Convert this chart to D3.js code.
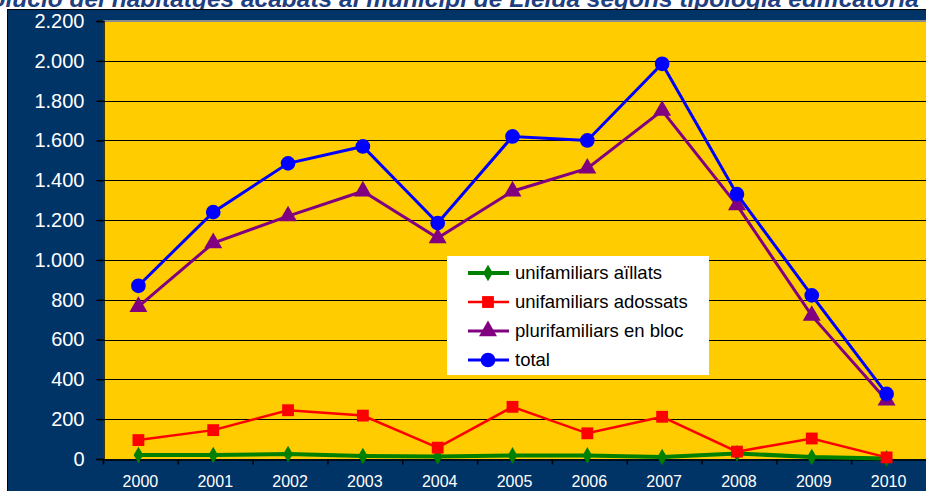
<!DOCTYPE html>
<meta charset="utf-8">
<style>
  body { margin: 0; background: #fff; }
  text { font-family: Arial, "Liberation Sans", sans-serif; }
  .title { font: italic bold 24.5px Arial, "Liberation Sans", sans-serif; fill: #1f3f7f; }
  .ylab, .xlab { fill: #fff; }
  .grid line { stroke: #000; stroke-width: 1px; }
  .legend text { font-size: 18.5px; fill: #000; }
</style>
<svg width="926" height="491"></svg>
<script src="https://d3js.org/d3.v7.min.js"></script>
<script>

  var years = ["2000", "2001", "2002", "2003", "2004", "2005", "2006", "2007", "2008", "2009", "2010"];
  var aillats = [20, 20, 25, 15, 13, 18, 18, 10, 28, 10, 3];
  var adossats = [95, 145, 245, 218, 57, 262, 129, 212, 37, 103, 8];
  var plurifamiliars = [765, 1085, 1220, 1345, 1110, 1345, 1460, 1750, 1275, 720, 295];
  var total = [870, 1240, 1485, 1570, 1185, 1620, 1600, 1985, 1330, 822, 327];
  var yTicks = [0, 200, 400, 600, 800, 1000, 1200, 1400, 1600, 1800, 2000, 2200];

  var series = [
    { name: "unifamiliars  aïllats", values: aillats, color: "#008000", width: 4, shape: "diamond" },
    { name: "unifamiliars adossats", values: adossats, color: "#ff0000", width: 2.5, shape: "square" },
    { name: "plurifamiliars en bloc", values: plurifamiliars, color: "#800080", width: 3, shape: "triangle" },
    { name: "total", values: total, color: "#0000ff", width: 3, shape: "circle" }
  ];

  var svg = d3.select("svg");
  var margin = { left: 103, top: 21, right: 0, bottom: 32 };
  var W = 926, H = 491;

  // title, cut by the top of the page as in the original
  svg.append("text").attr("class", "title")
    .attr("x", 919).attr("y", 7).attr("text-anchor", "end")
    .text("Evolució del habitatges acabats al municipi de Lleida segons tipologia edificatòria");

  // navy frame
  svg.append("rect").attr("x", 7.5).attr("y", 9.5).attr("width", W).attr("height", H)
    .attr("fill", "#003366").attr("stroke", "#000").attr("stroke-width", 1);

  var x = d3.scaleBand().domain(years).range([margin.left, W - margin.right]);
  var y = d3.scaleLinear().domain([0, 2200]).range([H - margin.bottom, margin.top]);

  // plot area
  svg.append("rect")
    .attr("x", margin.left).attr("y", margin.top)
    .attr("width", W - margin.left).attr("height", y(0) - margin.top)
    .attr("fill", "#ffcc00");
  svg.append("line")
    .attr("x1", margin.left).attr("x2", W).attr("y1", margin.top).attr("y2", margin.top)
    .attr("stroke", "#8c8c8c").attr("stroke-width", 2);

  // grid
  svg.append("g").attr("class", "grid")
    .selectAll("line").data(yTicks.slice(1, -1)).enter().append("line")
    .attr("x1", margin.left).attr("x2", W)
    .attr("y1", function (d) { return Math.round(y(d)) + 0.5; })
    .attr("y2", function (d) { return Math.round(y(d)) + 0.5; });

  // y axis
  var yAxis = svg.append("g")
    .attr("transform", "translate(" + (margin.left + 0.5) + ",0)")
    .call(d3.axisLeft(y).tickValues(yTicks).tickSize(7).tickPadding(12)
      .tickFormat(function (d) { return d3.format(",")(d).replace(/,/g, "."); }));
  yAxis.select(".domain").attr("stroke", "#000").attr("stroke-width", 1.5);
  yAxis.selectAll(".tick line").attr("stroke", "#000").attr("stroke-width", 1.5);
  yAxis.selectAll("text").attr("class", "ylab").attr("fill", "#fff").style("font-size", "20px");

  // x axis
  var xAxis = svg.append("g")
    .attr("transform", "translate(0," + (y(0) + 0.5) + ")")
    .call(d3.axisBottom(x).tickSize(0).tickPadding(16));
  xAxis.select(".domain").attr("stroke", "#000").attr("stroke-width", 1.5);
  xAxis.selectAll("text").attr("class", "xlab").attr("fill", "#fff").style("font-size", "16px");
  xAxis.selectAll(".sep").data(years).enter().append("line")
    .attr("x1", function (d) { return x(d) + 0.5; }).attr("x2", function (d) { return x(d) + 0.5; })
    .attr("y1", 0).attr("y2", 5).attr("stroke", "#000").attr("stroke-width", 1.5);

  function cx(i) { return x(years[i]) + x.bandwidth() / 2 - 2; }

  var symbols = {
    diamond: d3.symbol().type(d3.symbolDiamond).size(80),
    square: d3.symbol().type(d3.symbolSquare).size(140),
    triangle: d3.symbol().type(d3.symbolTriangle).size(140),
    circle: d3.symbol().type(d3.symbolCircle).size(170)
  };

  var line = d3.line().x(function (d, i) { return cx(i); }).y(function (d) { return y(d); });

  series.forEach(function (s) {
    var g = svg.append("g");
    g.append("path").attr("d", line(s.values))
      .attr("fill", "none").attr("stroke", s.color).attr("stroke-width", s.width);
    g.selectAll("path.m").data(s.values).enter().append("path").attr("class", "m")
      .attr("d", symbols[s.shape])
      .attr("transform", function (d, i) { return "translate(" + cx(i) + "," + y(d) + ")"; })
      .attr("fill", s.color);
  });

  // legend
  var lg = svg.append("g").attr("class", "legend").attr("transform", "translate(447,256)");
  lg.append("rect").attr("width", 262).attr("height", 119).attr("fill", "#fff");
  var items = lg.selectAll("g").data(series).enter().append("g")
    .attr("transform", function (d, i) { return "translate(0," + (17 + i * 29) + ")"; });
  items.append("line").attr("x1", 21).attr("x2", 62)
    .attr("stroke", function (d) { return d.color; })
    .attr("stroke-width", function (d) { return d.width; });
  items.append("path").attr("d", function (d) { return symbols[d.shape](); })
    .attr("transform", "translate(41,0)")
    .attr("fill", function (d) { return d.color; });
  items.append("text").attr("x", 68).attr("y", 6).text(function (d) { return d.name; });

</script>
